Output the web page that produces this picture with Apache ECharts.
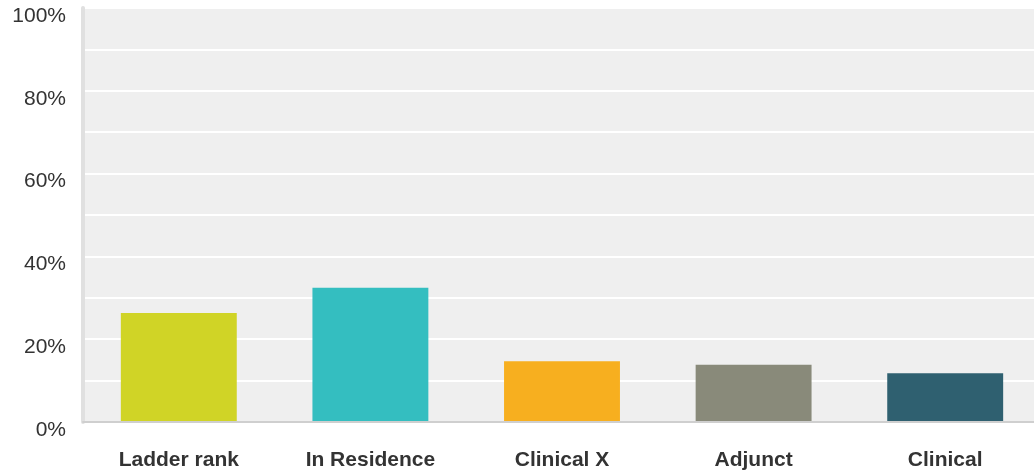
<!DOCTYPE html>
<html>
<head>
<meta charset="utf-8">
<script src="https://cdn.jsdelivr.net/npm/echarts@6/dist/echarts.min.js"></script>
<style>
  html, body { margin: 0; padding: 0; background: #fff; }
  #chart { width: 1034px; height: 476px; }
</style>
</head>
<body>
<div id="chart"></div>
<script>
// data
let categories = ['Ladder rank', 'In Residence', 'Clinical X', 'Adjunct', 'Clinical'];
let values = [26.3, 32.4, 14.7, 13.8, 11.8];
let colours = ['#d0d426', '#34bec0', '#f7af1f', '#898a7a', '#2f6070'];

let chart = echarts.init(document.getElementById('chart'));

let data = [];
for (let [i, v] of values.entries())
{
    data.push({ value: v, itemStyle: { color: colours[i] } });
}

let option = {
    animation: false,
    textStyle: { fontFamily: 'Liberation Sans, Arial, sans-serif' },
    grid: {
        left: 83, right: -7, top: 8, bottom: 54,
        containLabel: false,
        outerBoundsMode: 'none'
    },
    xAxis: {
        type: 'category',
        data: categories,
        axisTick: { show: false },
        axisLine: { show: true, lineStyle: { color: '#cfcfcf', width: 2 } },
        axisLabel: {
            interval: 0,
            margin: 28,
            fontSize: 21,
            fontWeight: 'bold',
            color: '#333'
        },
        z: 5
    },
    yAxis: {
        type: 'value',
        min: 0,
        max: 100,
        interval: 10,
        axisLine: { show: true, lineStyle: { color: '#e0e0e0', width: 4 } },
        axisTick: { show: false },
        splitArea: { show: true, areaStyle: { color: ['#efefef', '#efefef'] } },
        splitLine: { show: true, lineStyle: { color: '#ffffff', width: 2 } },
        axisLabel: {
            margin: 17,
            color: '#333',
            formatter: function (v) { return v % 20 === 0 ? '{a|' + v + '%}' : ''; },
            rich: {
                a: { fontSize: 21, color: '#333', padding: [16, 0, 0, 0] }
            }
        }
    },
    series: [{
        type: 'bar',
        data: data,
        barCategoryGap: '39.5%'
    }]
};
chart.setOption(option);
</script>
</body>
</html>
